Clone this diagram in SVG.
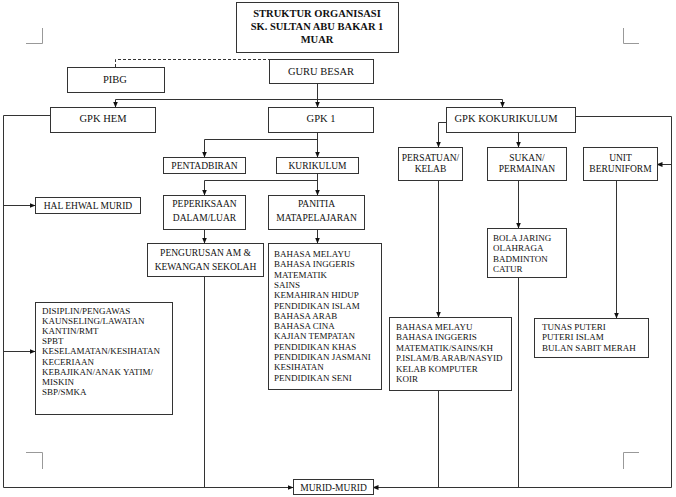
<svg xmlns="http://www.w3.org/2000/svg" width="676" height="497" viewBox="0 0 676 497">
<style>
.box{fill:#fff;stroke:#333;stroke-width:1}
.t{font-family:"Liberation Serif","Times New Roman",serif;fill:#111;font-size:9.5px}
.c{text-anchor:middle}
.h{font-size:10.5px}
.l{font-size:9px}
.title{font-family:"Liberation Serif","Times New Roman",serif;font-weight:bold;font-size:10.5px;fill:#111;text-anchor:middle}
.ln{fill:none;stroke:#333;stroke-width:1}
.ar{fill:none;stroke:#333;stroke-width:1;marker-end:url(#arr)}
.mark{fill:none;stroke:#999;stroke-width:1}
</style>
<defs>
<marker id="arr" markerUnits="userSpaceOnUse" markerWidth="6" markerHeight="6" refX="5.5" refY="3" orient="auto">
<path d="M0,0.5 L6,3 L0,5.5 z" fill="#111"/>
</marker>
</defs>
<rect width="676" height="497" fill="#fff"/>
<g id="cropmarks">
<path class="mark" d="M26,43.5 H42.5 V28"/>
<path class="mark" d="M639,43.5 H623.5 V28"/>
<path class="mark" d="M26,452.5 H42.5 V469"/>
<path class="mark" d="M639,452.5 H623.5 V469"/>
</g>
<g id="connectors">
<path class="ln" d="M115.5,67 V59.5 H269" stroke-dasharray="3,2"/>
<path class="ar" d="M317.5,83 V107"/>
<path class="ln" d="M115.5,99.5 H502.5"/>
<path class="ar" d="M115.5,99.5 V107"/>
<path class="ar" d="M502.5,99.5 V107"/>
<path class="ar" d="M50,115.5 H3.5 V487.5 H293"/>
<path class="ar" d="M3.5,205.5 H35"/>
<path class="ar" d="M3.5,351.5 H35"/>
<path class="ar" d="M317.5,132 V157"/>
<path class="ar" d="M317.5,139.5 H204.5 V157"/>
<path class="ar" d="M317.5,173 V195"/>
<path class="ar" d="M317.5,180.5 H204.5 V195"/>
<path class="ar" d="M204.5,229 V243"/>
<path class="ar" d="M317.5,229 V243"/>
<path class="ln" d="M204.5,276 V487.5"/>
<path class="ar" d="M446,122.5 H438.5 V147"/>
<path class="ar" d="M518.5,132 V147"/>
<path class="ar" d="M575,116.5 H671.5 V487.5 H373"/>
<path class="ar" d="M671.5,164.5 H657"/>
<path class="ar" d="M438.5,181 V317"/>
<path class="ln" d="M438.5,390 V487.5"/>
<path class="ar" d="M518.5,180 V228"/>
<path class="ln" d="M518.5,277 V487.5"/>
<path class="ar" d="M616.5,180 V318"/>
</g>
<g id="title">
<rect class="box" x="236.5" y="2.5" width="162" height="50"/>
<text class="title" x="317" y="17">STRUKTUR ORGANISASI</text>
<text class="title" x="317" y="30">SK. SULTAN ABU BAKAR 1</text>
<text class="title" x="317" y="43">MUAR</text>
</g>
<g id="guru-besar">
<rect class="box" x="269.5" y="59.5" width="104" height="24"/>
<text class="t h c" x="321" y="74.5">GURU BESAR</text>
</g>
<g id="pibg">
<rect class="box" x="67.5" y="67.5" width="97" height="25"/>
<text class="t h c" x="115" y="82.5">PIBG</text>
</g>
<g id="gpk-hem">
<rect class="box" x="50.5" y="107.5" width="105" height="25"/>
<text class="t h c" x="103" y="121.5">GPK HEM</text>
</g>
<g id="gpk-1">
<rect class="box" x="268.5" y="107.5" width="105" height="25"/>
<text class="t h c" x="321" y="121.5">GPK 1</text>
</g>
<g id="gpk-kokurikulum">
<rect class="box" x="446.5" y="107.5" width="129" height="25"/>
<text class="t h c" x="506" y="121.5">GPK KOKURIKULUM</text>
</g>
<g id="pentadbiran">
<rect class="box" x="163.5" y="157.5" width="82" height="16"/>
<text class="t c" x="204.5" y="168.5">PENTADBIRAN</text>
</g>
<g id="kurikulum">
<rect class="box" x="276.5" y="157.5" width="82" height="16"/>
<text class="t c" x="317.5" y="168.5">KURIKULUM</text>
</g>
<g id="hal-ehwal-murid">
<rect class="box" x="35.5" y="197.5" width="105" height="16"/>
<text class="t c" x="88" y="208.5">HAL EHWAL MURID</text>
</g>
<g id="peperiksaan">
<rect class="box" x="163.5" y="195.5" width="82" height="34"/>
<text class="t c" x="204.5" y="206.5">PEPERIKSAAN</text>
<text class="t c" x="204.5" y="220.5">DALAM/LUAR</text>
</g>
<g id="panitia">
<rect class="box" x="268.5" y="195.5" width="96" height="34"/>
<text class="t c" x="316.5" y="206.5">PANITIA</text>
<text class="t c" x="316.5" y="220.5">MATAPELAJARAN</text>
</g>
<g id="pengurusan">
<rect class="box" x="147.5" y="243.5" width="116" height="33"/>
<text class="t c" x="205.5" y="255.5">PENGURUSAN AM &amp;</text>
<text class="t c" x="205.5" y="269.5">KEWANGAN SEKOLAH</text>
</g>
<g id="senarai-mata-pelajaran">
<rect class="box" x="268.5" y="243.5" width="113" height="146"/>
<text class="t l" x="274" y="257">BAHASA MELAYU</text>
<text class="t l" x="274" y="267.3">BAHASA INGGERIS</text>
<text class="t l" x="274" y="277.6">MATEMATIK</text>
<text class="t l" x="274" y="287.9">SAINS</text>
<text class="t l" x="274" y="298.2">KEMAHIRAN HIDUP</text>
<text class="t l" x="274" y="308.5">PENDIDIKAN ISLAM</text>
<text class="t l" x="274" y="318.8">BAHASA ARAB</text>
<text class="t l" x="274" y="329.1">BAHASA CINA</text>
<text class="t l" x="274" y="339.4">KAJIAN TEMPATAN</text>
<text class="t l" x="274" y="349.7">PENDIDIKAN KHAS</text>
<text class="t l" x="274" y="360">PENDIDIKAN JASMANI</text>
<text class="t l" x="274" y="370.3">KESIHATAN</text>
<text class="t l" x="274" y="380.6">PENDIDIKAN SENI</text>
</g>
<g id="senarai-hem">
<rect class="box" x="35.5" y="302.5" width="137" height="112"/>
<text class="t l" x="42" y="313.5">DISIPLIN/PENGAWAS</text>
<text class="t l" x="42" y="323.7">KAUNSELING/LAWATAN</text>
<text class="t l" x="42" y="333.9">KANTIN/RMT</text>
<text class="t l" x="42" y="344.1">SPBT</text>
<text class="t l" x="42" y="354.3">KESELAMATAN/KESIHATAN</text>
<text class="t l" x="42" y="364.5">KECERIAAN</text>
<text class="t l" x="42" y="374.7">KEBAJIKAN/ANAK YATIM/</text>
<text class="t l" x="42" y="384.9">MISKIN</text>
<text class="t l" x="42" y="395.1">SBP/SMKA</text>
</g>
<g id="persatuan">
<rect class="box" x="398.5" y="147.5" width="64" height="33"/>
<text class="t c" x="430.5" y="160.5">PERSATUAN/</text>
<text class="t c" x="430.5" y="171.5">KELAB</text>
</g>
<g id="sukan">
<rect class="box" x="487.5" y="147.5" width="79" height="33"/>
<text class="t c" x="527" y="160.5">SUKAN/</text>
<text class="t c" x="527" y="171.5">PERMAINAN</text>
</g>
<g id="unit-beruniform">
<rect class="box" x="583.5" y="147.5" width="74" height="33"/>
<text class="t c" x="620.5" y="160.5">UNIT</text>
<text class="t c" x="620.5" y="171.5">BERUNIFORM</text>
</g>
<g id="senarai-sukan">
<rect class="box" x="487.5" y="228.5" width="79" height="49"/>
<text class="t l" x="493" y="240.5">BOLA JARING</text>
<text class="t l" x="493" y="251">OLAHRAGA</text>
<text class="t l" x="493" y="261.5">BADMINTON</text>
<text class="t l" x="493" y="272">CATUR</text>
</g>
<g id="senarai-persatuan">
<rect class="box" x="389.5" y="317.5" width="122" height="73"/>
<text class="t l" x="396" y="330">BAHASA MELAYU</text>
<text class="t l" x="396" y="340.4">BAHASA INGGERIS</text>
<text class="t l" x="396" y="350.8">MATEMATIK/SAINS/KH</text>
<text class="t l" x="396" y="361.2">P.ISLAM/B.ARAB/NASYID</text>
<text class="t l" x="396" y="371.6">KELAB KOMPUTER</text>
<text class="t l" x="396" y="382">KOIR</text>
</g>
<g id="senarai-uniform">
<rect class="box" x="534.5" y="318.5" width="114" height="39"/>
<text class="t l" x="542" y="330">TUNAS PUTERI</text>
<text class="t l" x="542" y="340.4">PUTERI ISLAM</text>
<text class="t l" x="542" y="350.8">BULAN SABIT MERAH</text>
</g>
<g id="murid-murid">
<rect class="box" x="293.5" y="479.5" width="80" height="15"/>
<text class="t c" x="333.5" y="490.5">MURID-MURID</text>
</g>
</svg>
